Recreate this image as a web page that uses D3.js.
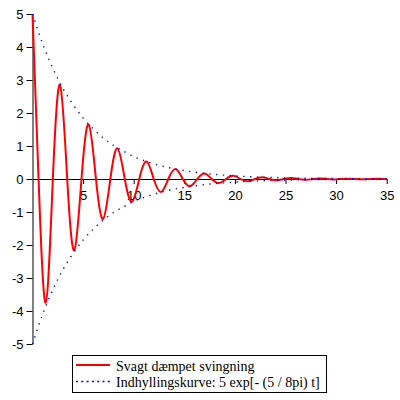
<!DOCTYPE html>
<html>
<head>
<meta charset="utf-8">
<script src="https://cdn.jsdelivr.net/npm/d3@7"></script>
<style>
  body { margin: 0; background: #fff; }
  svg { display: block; }
  .axis text { font-family: "Liberation Sans", Arial, sans-serif; font-size: 13px; fill: #000; }
  .legend text { font-family: "Liberation Serif", "Times New Roman", serif; font-size: 14px; fill: #000; }
</style>
</head>
<body>
<svg id="chart" width="400" height="400"></svg>
<script>
// damped oscillation, extrema and zero crossings
const oscT = [0, 0.60, 1.30, 2.01, 2.72, 3.43, 4.13, 4.84, 5.55, 6.27, 6.98, 7.69, 8.40, 9.12, 9.83,
  10.55, 11.27, 11.98, 12.70, 13.42, 14.14, 14.85, 15.56, 16.28, 17.00, 17.71, 18.42, 19.13, 19.85,
  20.56, 21.28, 21.99, 22.70, 23.42, 24.13, 24.84, 25.56, 26.27, 26.98, 27.70, 28.41, 29.12, 29.84,
  30.55, 31.26, 31.98, 32.69, 33.40, 34.12, 34.83, 35];
const oscY = [5, 0, -3.75, 0, 2.85, 0, -2.16, 0, 1.65, 0, -1.21, 0, 0.93, 0, -0.69,
  0, 0.53, 0, -0.39, 0, 0.30, 0, -0.22, 0, 0.17, 0, -0.12, 0, 0.095,
  0, -0.07, 0, 0.055, 0, -0.04, 0, 0.03, 0, -0.022, 0, 0.017, 0, -0.012,
  0, 0.009, 0, -0.007, 0, 0.005, 0, -0.001];

// envelope samples
const envT = [0, 1, 2, 3, 4, 5, 6, 7, 8, 9, 10, 12, 14, 16, 18, 20, 23, 26, 30, 35];
const envUpper = [5, 4.1, 3.36, 2.75, 2.26, 1.85, 1.52, 1.24, 1.02, 0.84, 0.68, 0.46, 0.31, 0.21, 0.14, 0.094, 0.05, 0.028, 0.013, 0.005];
const envLower = [-5, -4.1, -3.36, -2.75, -2.26, -1.85, -1.52, -1.24, -1.02, -0.84, -0.68, -0.46, -0.31, -0.21, -0.14, -0.094, -0.05, -0.028, -0.013, -0.005];

const xTicks = [5, 10, 15, 20, 25, 30, 35];
const yTicks = [-5, -4, -3, -2, -1, 0, 1, 2, 3, 4, 5];
const legendLabels = ['Svagt dæmpet svingning', 'Indhyllingskurve: 5 exp[- (5 / 8pi) t]'];

const svg = d3.select('#chart');

const x = d3.scaleLinear().domain([0, 35]).range([32.5, 386.7]);
const y = d3.scaleLinear().domain([-5, 5]).range([344, 14]);

// axes
svg.append('g')
    .attr('class', 'axis')
    .attr('transform', `translate(0,${y(0)})`)
    .call(d3.axisBottom(x).tickValues(xTicks).tickSize(5).tickSizeOuter(0).tickPadding(7).tickFormat(d3.format('d')))
    .call(g => g.selectAll('line, path').attr('stroke', '#000'));

svg.append('g')
    .attr('class', 'axis')
    .attr('transform', `translate(${x(0)},0)`)
    .call(d3.axisLeft(y).tickValues(yTicks).tickSize(6).tickSizeOuter(0).tickPadding(3).tickFormat(d => String(d)))
    .call(g => g.selectAll('line, path').attr('stroke', '#000'));

const oscLine = d3.line()
    .x((d, i) => x(oscT[i]))
    .y(d => y(d))
    .curve(d3.curveNatural);

const envLine = d3.line()
    .x((d, i) => x(envT[i]))
    .y(d => y(d))
    .curve(d3.curveMonotoneX);

svg.append('path')
    .attr('d', oscLine(oscY))
    .attr('fill', 'none')
    .attr('stroke', '#ff0000')
    .attr('stroke-width', 2);

[envUpper, envLower].forEach(arr => {
    svg.append('path')
        .attr('d', envLine(arr))
        .attr('fill', 'none')
        .attr('stroke', '#0000ff')
        .attr('stroke-width', 1.4)
        .attr('stroke-dasharray', '1.3,5.5');
});

// legend
const lg = svg.append('g').attr('class', 'legend');
lg.append('rect')
    .attr('x', 72.5).attr('y', 355.5)
    .attr('width', 254).attr('height', 37)
    .attr('fill', '#fff')
    .attr('stroke', '#000');

const rows = [
    { label: legendLabels[0], color: '#ff0000', width: 2, dash: null, ly: 365, ty: 371 },
    { label: legendLabels[1], color: '#0000ff', width: 1.4, dash: '2,3.3', ly: 381.5, ty: 387 }
];
rows.forEach(r => {
    lg.append('line')
        .attr('x1', 76).attr('x2', 110)
        .attr('y1', r.ly).attr('y2', r.ly)
        .attr('stroke', r.color)
        .attr('stroke-width', r.width)
        .attr('stroke-dasharray', r.dash);
    lg.append('text')
        .attr('x', 116).attr('y', r.ty)
        .text(r.label);
});
</script>
</body>
</html>
